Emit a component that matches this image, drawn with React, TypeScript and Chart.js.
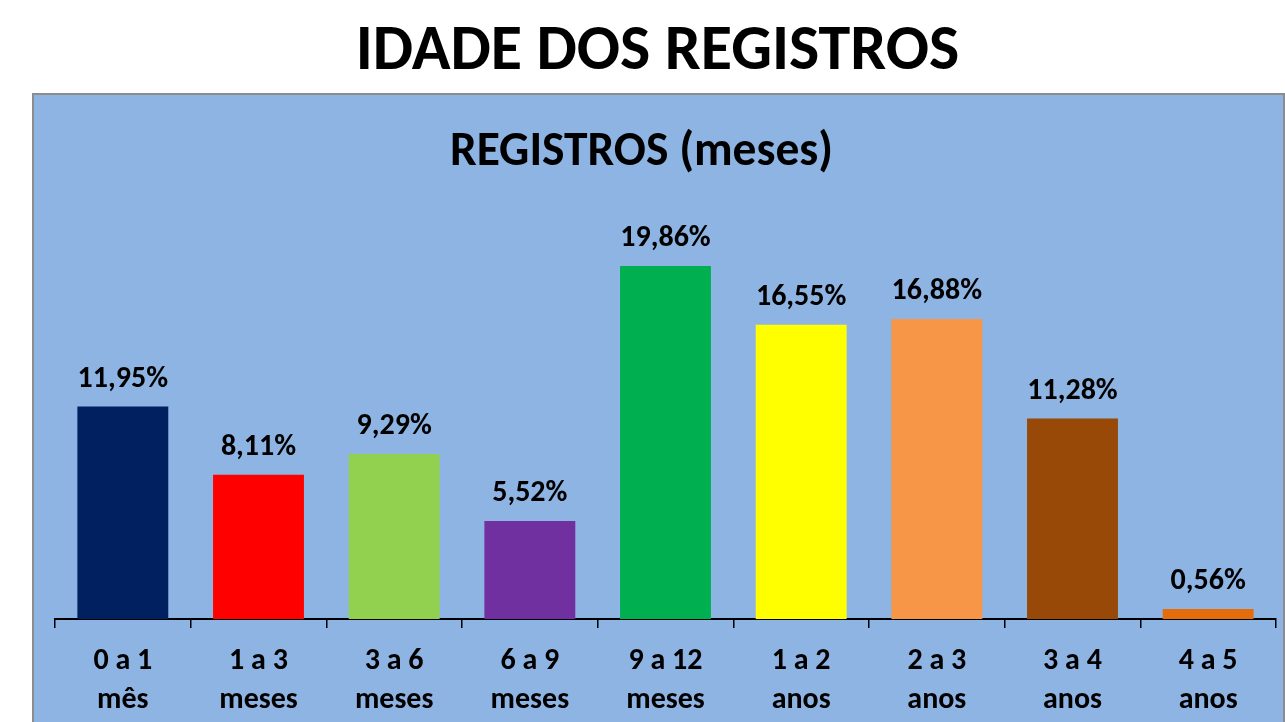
import React, { useEffect, useRef } from "react";
import { Chart, registerables } from "chart.js";

Chart.register(...registerables);

const categories: string[][] = [
  ["0 a 1", "mês"],
  ["1 a 3", "meses"],
  ["3 a 6", "meses"],
  ["6 a 9", "meses"],
  ["9 a 12", "meses"],
  ["1 a 2", "anos"],
  ["2 a 3", "anos"],
  ["3 a 4", "anos"],
  ["4 a 5", "anos"],
];
const values: number[] = [11.95, 8.11, 9.29, 5.52, 19.86, 16.55, 16.88, 11.28, 0.56];
const barColors: string[] = [
  "#002060", "#FF0000", "#92D050", "#7030A0", "#00B050",
  "#FFFF00", "#F79646", "#984807", "#E46C0A",
];
const mainTitle = "IDADE DOS REGISTROS";
const chartTitle = "REGISTROS (meses)";

const FONT = "Carlito, Lato, 'Open Sans', sans-serif";

const fmt = (v: number) => v.toFixed(2).replace(".", ",") + "%";

const labelPlugin = {
  id: "barLabels",
  afterDatasetsDraw(chart: any) {
    const ctx = chart.ctx;
    const meta = chart.getDatasetMeta(0);
    ctx.save();
    ctx.font = `bold 30px ${FONT}`;
    ctx.fillStyle = "#000";
    ctx.textAlign = "center";
    ctx.textBaseline = "alphabetic";
    meta.data.forEach((bar: any, i: number) => {
      ctx.fillText(fmt(values[i]), bar.x, bar.y - 20);
    });
    ctx.restore();
  },
};

const innerTitlePlugin = {
  id: "innerTitle",
  afterDraw(chart: any) {
    const ctx = chart.ctx;
    const area = chart.chartArea;
    ctx.save();
    ctx.font = `bold 47.5px ${FONT}`;
    ctx.fillStyle = "#000";
    ctx.textAlign = "center";
    ctx.textBaseline = "middle";
    ctx.fillText(chartTitle, (area.left + area.right) / 2 - 24, 58);
    ctx.restore();
  },
};

export default function App() {
  const ref = useRef<HTMLCanvasElement>(null);
  useEffect(() => {
    document.documentElement.style.overflow = "hidden";
    document.body.style.overflow = "hidden";
    const chart = new Chart(ref.current!, {
      type: "bar",
      data: {
        labels: categories,
        datasets: [
          {
            data: values,
            backgroundColor: barColors,
            borderWidth: 0,
            categoryPercentage: 0.67,
            barPercentage: 1,
          },
        ],
      },
      options: {
        animation: false,
        responsive: false,
        maintainAspectRatio: false,
        layout: { padding: { left: 21, right: 7, top: 90, bottom: 0 } },
        plugins: {
          legend: { display: false },
          tooltip: { enabled: false },
          title: { display: false },
        },
        scales: {
          y: { display: false, min: 0, max: 24.42 },
          x: {
            grid: {
              display: true,
              drawOnChartArea: false,
              drawTicks: true,
              tickLength: 9,
              color: "#000",
              lineWidth: 1.5,
              offset: true,
            },
            border: { display: true, color: "#000", width: 2 },
            ticks: {
              color: "#000",
              padding: 13.5,
              maxRotation: 0,
              autoSkip: false,
              font: { family: FONT, size: 30, weight: "bold", lineHeight: 1.3 },
            },
            afterFit(scale: any) {
              scale.height = 103;
            },
          },
        },
      },
      plugins: [labelPlugin, innerTitlePlugin],
    });
    return () => chart.destroy();
  }, []);

  return (
    <div style={{ position: "absolute", left: 0, top: 0, width: 1285, height: 722, overflow: "hidden", background: "#fff" }}>
      <div
        style={{
          position: "absolute",
          left: 0,
          top: 11,
          width: 1315,
          textAlign: "center",
          fontFamily: FONT,
          fontWeight: "bold",
          fontSize: 64,
          lineHeight: "72px",
          color: "#000",
          whiteSpace: "nowrap",
        }}
      >
        {mainTitle}
      </div>
      <div
        style={{
          position: "absolute",
          left: 32,
          top: 93,
          width: 1249,
          height: 627,
          background: "#8EB4E3",
          borderTop: "2px solid #8C8C8C",
          borderLeft: "2px solid #8C8C8C",
          borderRight: "2px solid #8C8C8C",
        }}
      >
        <canvas ref={ref} width={1249} height={627} style={{ display: "block" }} />
      </div>
    </div>
  );
}
